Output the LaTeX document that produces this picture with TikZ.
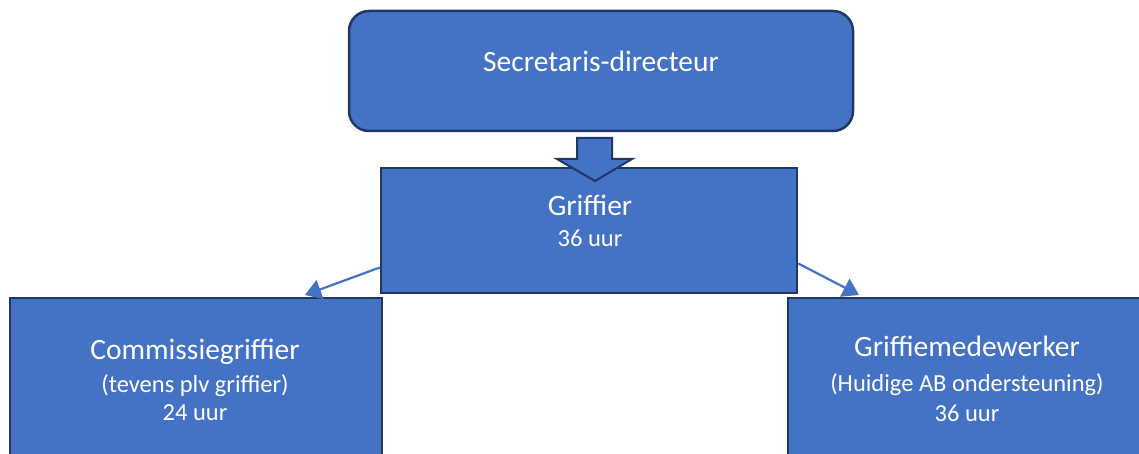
\documentclass[tikz,border=0pt]{standalone}
\usepackage{fontspec}
\setmainfont{Carlito}
\usepackage{tikz}
\usetikzlibrary{arrows.meta}

\definecolor{boxblue}{HTML}{4472C4}
\definecolor{boxline}{HTML}{1F3864}

\tikzset{
  orgbox/.style={draw=boxline, line width=2.5pt, fill=boxblue, inner sep=0pt},
  bigarrow/.style={draw=boxline, line width=2pt, fill=boxblue, line join=miter},
  linkarrow/.style={draw=boxblue, line width=2.2pt, -{Triangle[length=16pt,width=20pt]}},
  bigtext/.style={text=white, anchor=base, inner sep=0pt, font=\fontsize{29.5}{34}\selectfont},
  smalltext/.style={text=white, anchor=base, inner sep=0pt, font=\fontsize{24.5}{30}\selectfont}
}

\begin{document}
\begin{tikzpicture}[x=1pt, y=-1pt]
    \useasboundingbox (0,0) rectangle (1139,454);
    \clip (0,0) rectangle (1139,454);
    \node[orgbox, rounded corners=20pt, minimum width=504pt, minimum height=120pt] at (601,71) (secr) {};
    \node[orgbox, minimum width=416pt, minimum height=125pt] at (589,230.5) (griff) {};
    \node[orgbox, minimum width=372pt, minimum height=172pt] at (196,384) (comm) {};
    \node[orgbox, minimum width=360pt, minimum height=172pt] at (968,384) (mdw) {};
    % texts
    \node[bigtext] at (601,71.5) (secrT) {Secretaris-directeur};
    \node[bigtext] at (590,215) (griffT) {Griffier};
    \node[smalltext] at (590,247) (griffU) {36 uur};
    \node[bigtext] at (195,359) (commT) {Commissiegriffier};
    \node[smalltext] at (195,392) (commS) {(tevens plv griffier)};
    \node[smalltext] at (195,420) (commU) {24 uur};
    \node[bigtext] at (967,356) (mdwT) {Griffiemedewerker};
    \node[smalltext] at (967,391.5) (mdwS) {(Huidige AB ondersteuning)};
    \node[smalltext] at (967,421.5) (mdwU) {36 uur};
    % block arrow from secretaris to griffier
    \draw[bigarrow] (577,138) -- (612,138) -- (612,159) -- (632,159) -- (595,181)
        -- (557,159) -- (577,159) -- cycle;
    \coordinate (tipl) at (305,295);
    \coordinate (tipr) at (859,295);
    \path[linkarrow] ([yshift=-37pt]griff.west) -- (tipl);
    \path[linkarrow] ([yshift=-33pt]griff.east) -- (tipr);
\end{tikzpicture}
\end{document}
